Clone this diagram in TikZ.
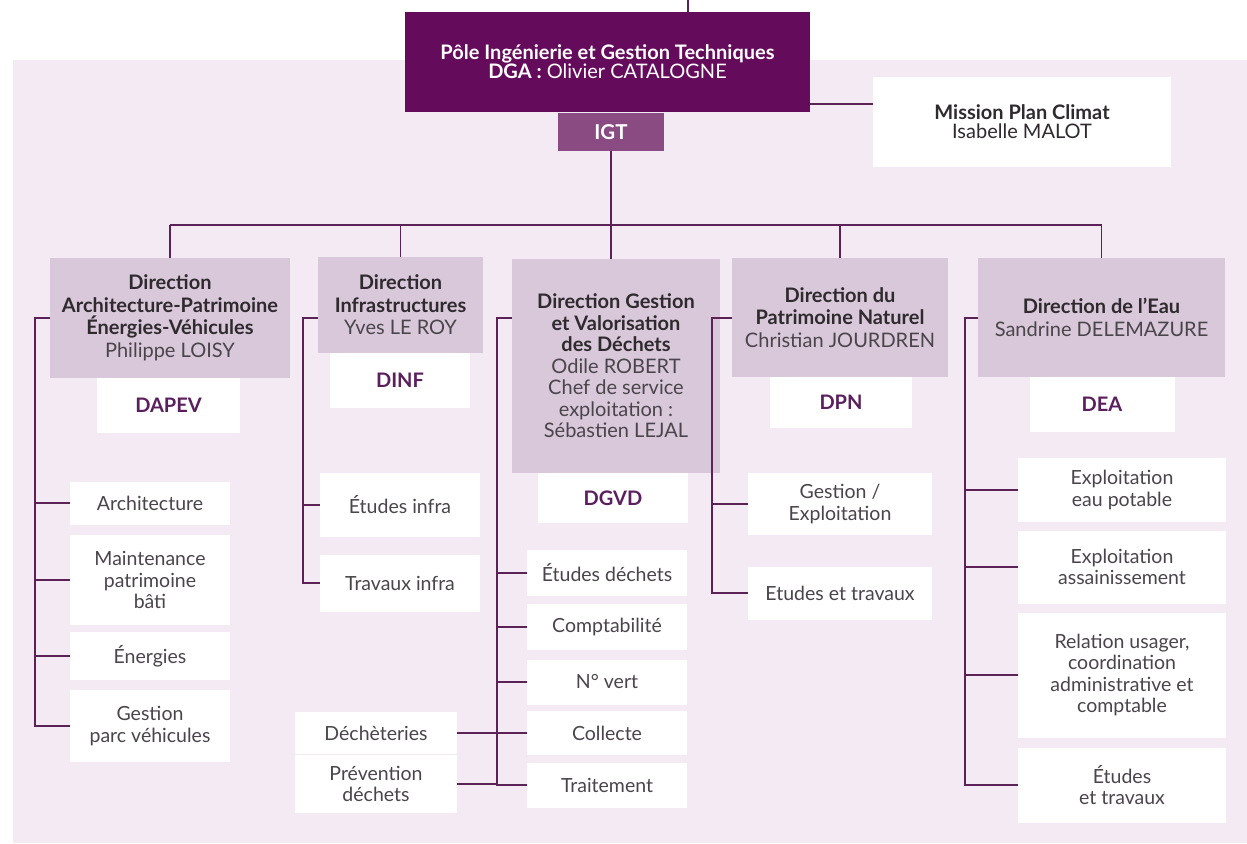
\documentclass[tikz,border=0pt]{standalone}
\usepackage{fontspec}
\setmainfont{Lato}
\usepackage{tikz}
\definecolor{bgpink}{HTML}{F4EAF3}
\definecolor{hdrpurple}{HTML}{650B5C}
\definecolor{igtpurple}{HTML}{8A4A82}
\definecolor{dirlilac}{HTML}{D8C8DA}
\definecolor{linepurple}{HTML}{5C2157}
\definecolor{codepurple}{HTML}{5A1F5C}
\definecolor{textdark}{HTML}{2E2A2E}
\definecolor{namegrey}{HTML}{4A454A}

\begin{document}
\begin{tikzpicture}[x=1pt, y=-1pt,
  hdrbox/.style={rectangle, fill=hdrpurple, text=white, align=center, inner sep=0pt, font=\fontsize{20}{19}\selectfont},
  igtbox/.style={rectangle, fill=igtpurple, text=white, align=center, inner sep=0pt, font=\fontsize{20.5}{20}\selectfont\bfseries},
  dirbox/.style={rectangle, fill=dirlilac, text=textdark, align=center, inner sep=0pt, font=\fontsize{20}{22.5}\selectfont},
  codebox/.style={rectangle, fill=white, text=codepurple, align=center, inner sep=0pt, font=\fontsize{20}{22}\selectfont\bfseries},
  svcbox/.style={rectangle, fill=white, text=namegrey, align=center, inner sep=0pt, font=\fontsize{19.5}{21.5}\selectfont},
  conn/.style={draw=linepurple, line width=1.3pt}
]
\useasboundingbox (0,0) rectangle (1247,843);
\fill[bgpink] (13,60) rectangle (1247,843);

% top of the chart
\node[hdrbox, minimum width=405, minimum height=100] (hdr) at (607.5,62) {\textbf{Pôle Ingénierie et Gestion Techniques}\\\textbf{DGA :} Olivier CATALOGNE};
\node[igtbox, minimum width=106, minimum height=38] (igt) at (611,132) {IGT};
\node[svcbox, text=textdark, font=\fontsize{20}{19}\selectfont, minimum width=298, minimum height=90] (mission) at (1022,122) {\textbf{Mission Plan Climat}\\Isabelle MALOT};

% directions
\node[dirbox, minimum width=240, minimum height=120] (dapevdir) at (170,318) {\textbf{Direction}\\\textbf{Architecture-Patrimoine}\\\textbf{Énergies-Véhicules}\\\textcolor{namegrey}{Philippe LOISY}};
\node[dirbox, minimum width=165, minimum height=96] (dinfdir) at (400.5,305) {\textbf{Direction}\\\textbf{Infrastructures}\\\textcolor{namegrey}{Yves LE ROY}};
\node[dirbox, font=\fontsize{20}{21.5}\selectfont, minimum width=208, minimum height=214] (dgvddir) at (616,366) {\textbf{Direction Gestion}\\\textbf{et Valorisation}\\\textbf{des Déchets}\\\textcolor{namegrey}{Odile ROBERT}\\\textcolor{namegrey}{Chef de service}\\\textcolor{namegrey}{exploitation :}\\\textcolor{namegrey}{Sébastien LEJAL}};
\node[dirbox, minimum width=216, minimum height=119] (dpndir) at (840,317.5) {\textbf{Direction du}\\\textbf{Patrimoine Naturel}\\\textcolor{namegrey}{Christian JOURDREN}};
\node[dirbox, minimum width=247, minimum height=119] (deadir) at (1101.5,317.5) {\textbf{Direction de l’Eau}\\\textcolor{namegrey}{Sandrine DELEMAZURE}};

% codes
\node[codebox, minimum width=143, minimum height=55] (dapev) at (168.5,405.5) {DAPEV};
\node[codebox, minimum width=140, minimum height=55] (dinf) at (400,380.5) {DINF};
\node[codebox, minimum width=150, minimum height=50] (dgvd) at (613,498) {DGVD};
\node[codebox, minimum width=142, minimum height=51] (dpn) at (841,402.5) {DPN};
\node[codebox, minimum width=145, minimum height=55] (dea) at (1102,404.5) {DEA};

% services
\node[svcbox, minimum width=160, minimum height=43] (archi) at (150,503) {Architecture};
\node[svcbox, minimum width=160, minimum height=90] (maint) at (150,580) {Maintenance\\patrimoine\\bâti};
\node[svcbox, minimum width=160, minimum height=48] (ener) at (150,656) {Énergies};
\node[svcbox, minimum width=160, minimum height=72] (parc) at (150,726) {Gestion\\parc véhicules};

\node[svcbox, minimum width=160, minimum height=64] (etinfra) at (400,505) {Études infra};
\node[svcbox, minimum width=160, minimum height=57] (trinfra) at (400,583) {Travaux infra};

\node[svcbox, minimum width=160, minimum height=46] (etdech) at (607,573) {Études déchets};
\node[svcbox, minimum width=160, minimum height=46] (compta) at (607,627) {Comptabilité};
\node[svcbox, minimum width=160, minimum height=45] (nvert) at (607,682) {N° vert};
\node[svcbox, minimum width=160, minimum height=44] (collecte) at (607,733) {Collecte};
\node[svcbox, minimum width=160, minimum height=45] (traite) at (607,785) {Traitement};
\node[svcbox, minimum width=162, minimum height=42] (decheterie) at (376,733) {Déchèteries};
\node[svcbox, minimum width=162, minimum height=58] (prevention) at (376,784) {Prévention\\déchets};

\node[svcbox, minimum width=184, minimum height=62] (gestexp) at (840,504) {Gestion /\\Exploitation};
\node[svcbox, minimum width=184, minimum height=53] (ettrav) at (840,593) {Etudes et travaux};

\node[svcbox, minimum width=208, minimum height=64] (eaupot) at (1122,490) {Exploitation\\eau potable};
\node[svcbox, minimum width=208, minimum height=73] (assain) at (1122,567) {Exploitation\\assainissement};
\node[svcbox, minimum width=208, minimum height=125] (usager) at (1122,675) {Relation usager,\\coordination\\administrative et\\comptable};
\node[svcbox, minimum width=208, minimum height=75] (eauetud) at (1122,785) {Études\\et travaux};

% connectors
\coordinate (topin) at (688,0);
\coordinate (mpc) at (0,104);
\coordinate (hbar) at (0,225);
\coordinate (b1) at (35,318);
\coordinate (b2) at (303,318);
\coordinate (b3) at (497,318);
\coordinate (b4) at (712,318);
\coordinate (b5) at (965,318);

\draw[conn] (topin) -- (topin |- hdr.north);
\draw[conn] (hdr.east |- mpc) -- (mission.west |- mpc);
\draw[conn] (igt.south) -- (igt.south |- dgvddir.north);
\draw[conn] (dapevdir.north |- hbar) -- (deadir.north |- hbar);
\foreach \d in {dapevdir,dinfdir,dpndir,deadir}
  \draw[conn] (\d.north |- hbar) -- (\d.north);

\draw[conn] (dapevdir.west |- b1) -- (b1) |- (parc.west);
\foreach \s in {archi,maint,ener}
  \draw[conn] (b1 |- \s.west) -- (\s.west);
\draw[conn] (dinfdir.west |- b2) -- (b2) |- (trinfra.west);
\draw[conn] (b2 |- etinfra.west) -- (etinfra.west);
\draw[conn] (dgvddir.west |- b3) -- (b3) |- (traite.west);
\foreach \s in {etdech,compta,nvert,collecte}
  \draw[conn] (b3 |- \s.west) -- (\s.west);
\draw[conn] (decheterie) -- (collecte);
\draw[conn] (prevention.east) -- (b3 |- prevention.east);
\draw[conn] (dpndir.west |- b4) -- (b4) |- (ettrav.west);
\draw[conn] (b4 |- gestexp.west) -- (gestexp.west);
\draw[conn] (deadir.west |- b5) -- (b5) |- (eauetud.west);
\foreach \s in {eaupot,assain,usager}
  \draw[conn] (b5 |- \s.west) -- (\s.west);
\end{tikzpicture}
\end{document}
